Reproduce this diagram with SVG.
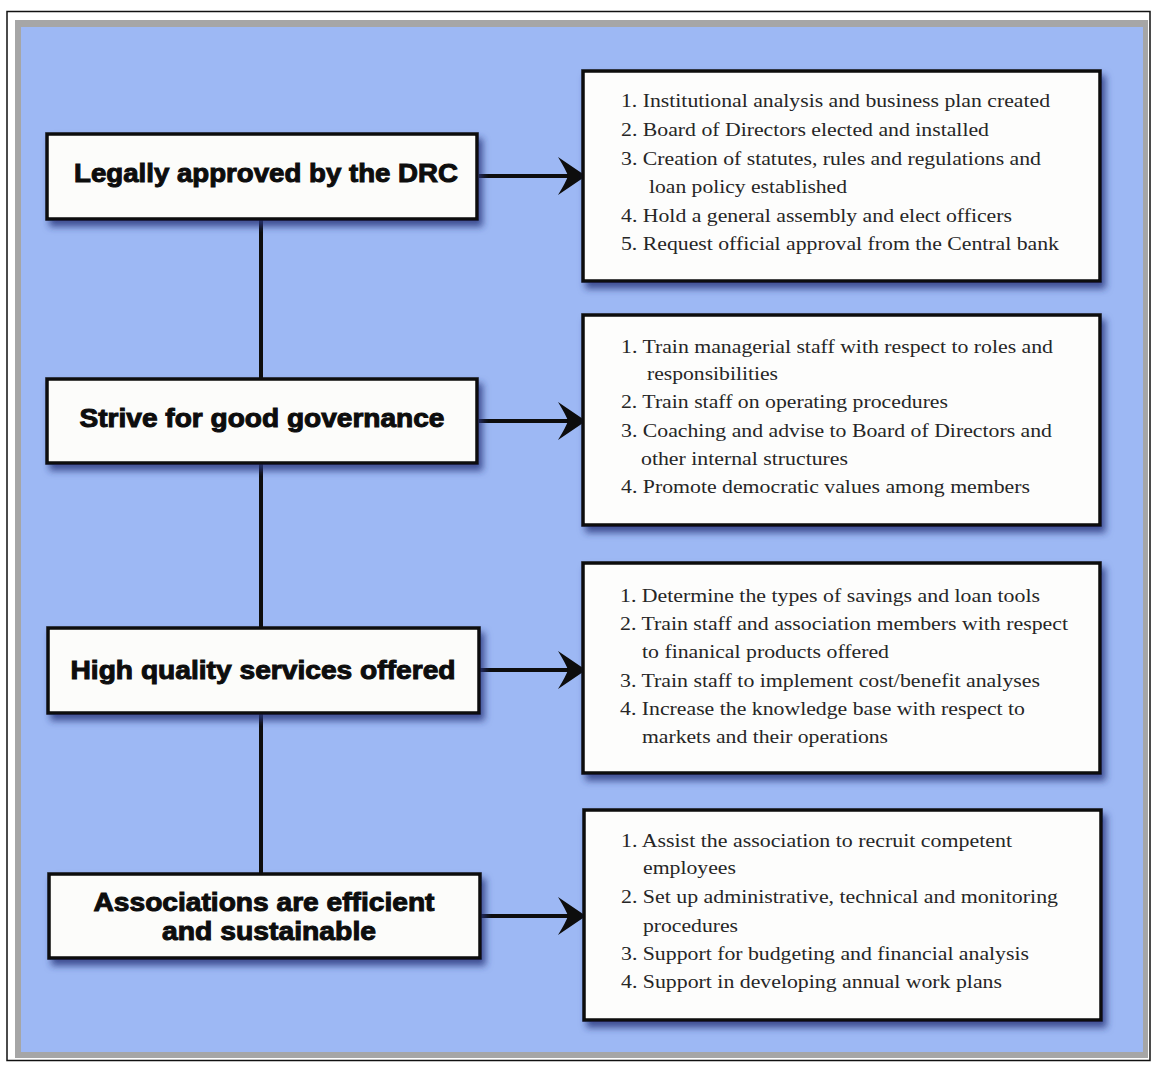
<svg xmlns="http://www.w3.org/2000/svg" width="1151" height="1065" viewBox="0 0 1151 1065">
<style>
.frame{fill:none;stroke:#111;stroke-width:1.5}
.bevel{fill:#a6a6a6}
.bg{fill:#9db8f4}
.hbox{fill:#fcfcfa;stroke:#0a0a0a;stroke-width:3.5;filter:url(#sh)}
.lbox{fill:#fdfdfc;stroke:#0a0a0a;stroke-width:3.5;filter:url(#sh)}
.h{font-family:"Liberation Sans",Arial,sans-serif;font-weight:bold;font-size:26px;fill:#0d0d0d;stroke:#0d0d0d;stroke-width:1;text-anchor:middle}
.t{font-family:"Liberation Serif","Times New Roman",serif;font-size:19px;fill:#262626}
.conn{stroke:#0d0d0d;stroke-width:4;fill:none}
</style>
<defs>
<filter id="sh" x="-10%" y="-10%" width="125%" height="130%">
<feDropShadow dx="4" dy="6" stdDeviation="3.5" flood-color="#26357a" flood-opacity="0.8"/>
</filter>
<marker id="ah" viewBox="0 -20 28 40" refX="10" refY="0" markerWidth="28" markerHeight="40" markerUnits="userSpaceOnUse" orient="auto">
<path d="M28,0 L0,-19 Q8,-6 10,0 Q8,6 0,19 Z" fill="#0d0d0d"/>
</marker>
</defs>
<rect x="0" y="0" width="1151" height="1065" fill="#ffffff"/>
<rect class="frame" x="7" y="11.5" width="1143" height="1049"/>
<rect class="bevel" x="15" y="20" width="1133" height="1038"/>
<rect class="bg" x="21" y="27" width="1122" height="1025"/>

<g id="connectors">
<line class="conn" x1="261" y1="219" x2="261" y2="874"/>
<line class="conn" x1="479" y1="176" x2="568" y2="176" marker-end="url(#ah)"/>
<line class="conn" x1="479" y1="421" x2="568" y2="421" marker-end="url(#ah)"/>
<line class="conn" x1="479" y1="670" x2="568" y2="670" marker-end="url(#ah)"/>
<line class="conn" x1="479" y1="916" x2="568" y2="916" marker-end="url(#ah)"/>
</g>

<g id="node-legal">
<rect class="hbox" x="47" y="134" width="430" height="85"/>
<text class="h" x="266" y="182" textLength="384" lengthAdjust="spacingAndGlyphs">Legally approved by the DRC</text>
</g>
<g id="node-governance">
<rect class="hbox" x="47" y="379" width="430" height="84"/>
<text class="h" x="262" y="427" textLength="365" lengthAdjust="spacingAndGlyphs">Strive for good governance</text>
</g>
<g id="node-quality">
<rect class="hbox" x="48" y="628" width="431" height="85"/>
<text class="h" x="263" y="679" textLength="385" lengthAdjust="spacingAndGlyphs">High quality services offered</text>
</g>
<g id="node-efficient">
<rect class="hbox" x="49" y="874" width="431" height="84"/>
<text class="h" x="264" y="911" textLength="341" lengthAdjust="spacingAndGlyphs">Associations are efficient</text>
<text class="h" x="269" y="940" textLength="214" lengthAdjust="spacingAndGlyphs">and sustainable</text>
</g>

<g id="list-legal">
<rect class="lbox" x="583" y="71" width="517" height="210"/>
<text class="t" x="621" y="107" textLength="429" lengthAdjust="spacingAndGlyphs">1. Institutional analysis and business plan created</text>
<text class="t" x="621" y="136" textLength="368" lengthAdjust="spacingAndGlyphs">2. Board of Directors elected and installed</text>
<text class="t" x="621" y="165" textLength="420" lengthAdjust="spacingAndGlyphs">3. Creation of statutes, rules and regulations and</text>
<text class="t" x="649" y="193" textLength="198" lengthAdjust="spacingAndGlyphs">loan policy established</text>
<text class="t" x="621" y="222" textLength="391" lengthAdjust="spacingAndGlyphs">4. Hold a general assembly and elect officers</text>
<text class="t" x="621" y="250" textLength="438" lengthAdjust="spacingAndGlyphs">5. Request official approval from the Central bank</text>
</g>
<g id="list-governance">
<rect class="lbox" x="583" y="315" width="517" height="210"/>
<text class="t" x="621" y="353" textLength="432" lengthAdjust="spacingAndGlyphs">1. Train managerial staff with respect to roles and</text>
<text class="t" x="647" y="380" textLength="131" lengthAdjust="spacingAndGlyphs">responsibilities</text>
<text class="t" x="621" y="408" textLength="327" lengthAdjust="spacingAndGlyphs">2. Train staff on operating procedures</text>
<text class="t" x="621" y="437" textLength="431" lengthAdjust="spacingAndGlyphs">3. Coaching and advise to Board of Directors and</text>
<text class="t" x="641" y="465" textLength="207" lengthAdjust="spacingAndGlyphs">other internal structures</text>
<text class="t" x="621" y="493" textLength="409" lengthAdjust="spacingAndGlyphs">4. Promote democratic values among members</text>
</g>
<g id="list-quality">
<rect class="lbox" x="583" y="563" width="517" height="210"/>
<text class="t" x="620" y="602" textLength="420" lengthAdjust="spacingAndGlyphs">1. Determine the types of savings and loan tools</text>
<text class="t" x="620" y="630" textLength="448" lengthAdjust="spacingAndGlyphs">2. Train staff and association members with respect</text>
<text class="t" x="642" y="658" textLength="247" lengthAdjust="spacingAndGlyphs">to finanical products offered</text>
<text class="t" x="620" y="687" textLength="420" lengthAdjust="spacingAndGlyphs">3. Train staff to implement cost/benefit analyses</text>
<text class="t" x="620" y="715" textLength="405" lengthAdjust="spacingAndGlyphs">4. Increase the knowledge base with respect to</text>
<text class="t" x="642" y="743" textLength="246" lengthAdjust="spacingAndGlyphs">markets and their operations</text>
</g>
<g id="list-efficient">
<rect class="lbox" x="584" y="810" width="517" height="210"/>
<text class="t" x="621" y="847" textLength="391" lengthAdjust="spacingAndGlyphs">1. Assist the association to recruit competent</text>
<text class="t" x="643" y="874" textLength="93" lengthAdjust="spacingAndGlyphs">employees</text>
<text class="t" x="621" y="903" textLength="437" lengthAdjust="spacingAndGlyphs">2. Set up administrative, technical and monitoring</text>
<text class="t" x="643" y="932" textLength="95" lengthAdjust="spacingAndGlyphs">procedures</text>
<text class="t" x="621" y="960" textLength="408" lengthAdjust="spacingAndGlyphs">3. Support for budgeting and financial analysis</text>
<text class="t" x="621" y="988" textLength="381" lengthAdjust="spacingAndGlyphs">4. Support in developing annual work plans</text>
</g>
</svg>
